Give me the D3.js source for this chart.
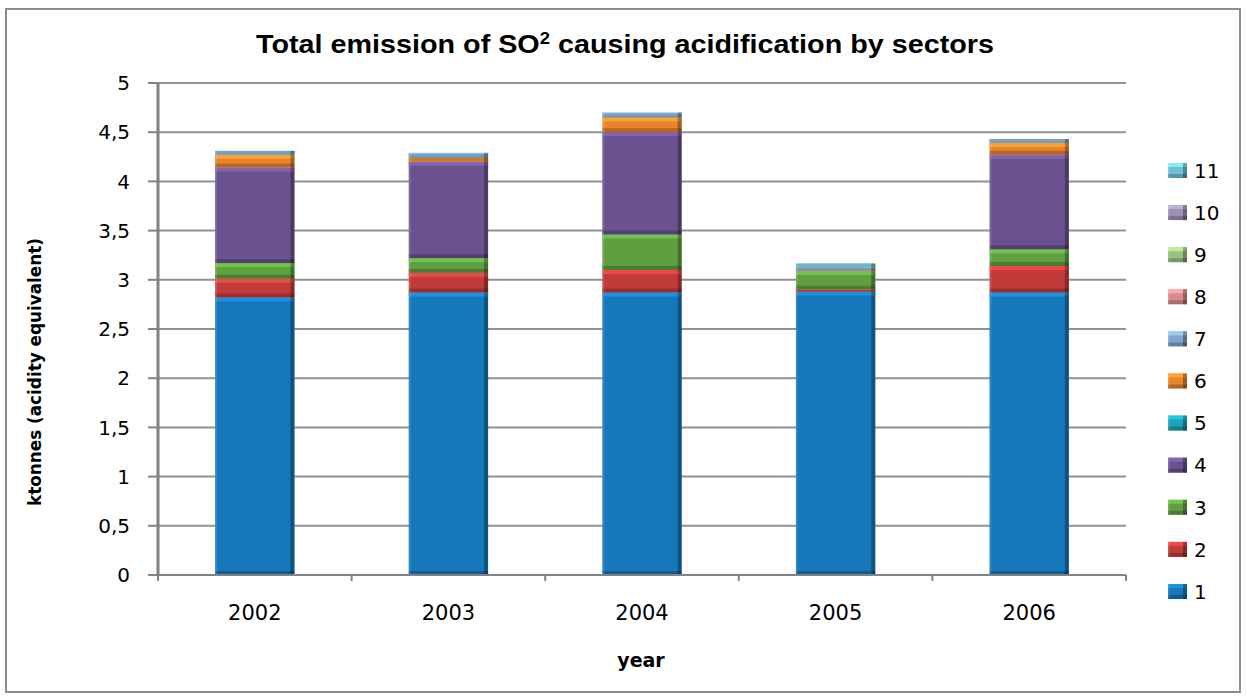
<!DOCTYPE html>
<html>
<head>
<meta charset="utf-8">
<script src="https://cdn.jsdelivr.net/npm/d3@7"></script>
<style>
  body { margin: 0; background: #fff; }
  svg text { fill: #000; }
</style>
</head>
<body>
<div id="chart"></div>
<script>
// data
const years = ["2002", "2003", "2004", "2005", "2006"];
const sectors = ["1", "2", "3", "4", "5", "6", "7", "8", "9", "10", "11"];
const s1  = [2.82, 2.87, 2.87, 2.88, 2.87];
const s2  = [0.19, 0.20, 0.23, 0.02, 0.27];
const s3  = [0.16, 0.15, 0.36, 0.19, 0.17];
const s4  = [0.97, 0.98, 1.04, 0.00, 0.96];
const s5  = [0, 0, 0, 0, 0];
const s6  = [0.13, 0.04, 0.15, 0.00, 0.12];
const s7  = [0.04, 0.05, 0.05, 0.00, 0.04];
const s8  = [0, 0, 0, 0, 0];
const s9  = [0, 0, 0, 0, 0];
const s10 = [0, 0, 0, 0.035, 0];
const s11 = [0, 0, 0, 0.04, 0];
const yTicks = [0, 0.5, 1, 1.5, 2, 2.5, 3, 3.5, 4, 4.5, 5];

const series = [s1, s2, s3, s4, s5, s6, s7, s8, s9, s10, s11];
const colors = ["#1677ba", "#c23b3b", "#5f9f3f", "#6a5290", "#1ba3b8", "#e8842c",
                "#7fa6cc", "#d98a8a", "#9cc07f", "#9b8fb4", "#6fc0d2"];

const W = 1247, H = 698;
const svg = d3.select("#chart").append("svg")
  .attr("width", W).attr("height", H)
  .style("font-family", "'DejaVu Sans', Verdana, sans-serif");

// outer frame
svg.append("rect")
  .attr("x", 6).attr("y", 9).attr("width", 1234).attr("height", 683)
  .attr("fill", "#fff").attr("stroke", "#8a8d91").attr("stroke-width", 2);

const pLeft = 158, pRight = 1126, pTop = 83, pBottom = 575;

const x = d3.scaleBand().domain(years).range([pLeft, pRight]).padding(0);
const y = d3.scaleLinear().domain([0, 5]).range([pBottom, pTop]);

// gridlines
svg.append("g").selectAll("line")
  .data(yTicks.filter(d => d > 0))
  .enter().append("line")
  .attr("x1", pLeft).attr("x2", pRight)
  .attr("y1", d => y(d)).attr("y2", d => y(d))
  .attr("stroke", "#8e9296").attr("stroke-width", 2);

// stacking
const table = years.map((yr, i) => {
  const row = { year: yr };
  sectors.forEach((s, k) => row[s] = series[k][i]);
  return row;
});
const stacked = d3.stack().keys(sectors)(table);

const barW = x.bandwidth() * 0.41;
const layers = svg.append("g").selectAll("g")
  .data(stacked)
  .enter().append("g");

const segs = layers.selectAll("g")
  .data((layer, k) => layer.map(d => ({ d, k })).filter(o => o.d[1] - o.d[0] > 0))
  .enter().append("g")
  .attr("transform", o => `translate(${x(o.d.data.year) + (x.bandwidth() - barW) / 2},${y(o.d[1])})`);

function bevel(sel, w, hFn, colFn) {
  sel.append("rect").attr("width", w).attr("height", hFn).attr("fill", colFn);
  // top highlight
  sel.append("rect").attr("width", w).attr("height", o => Math.min(4, hFn(o)))
    .attr("fill", o => d3.color(colFn(o)).brighter(0.7)).attr("opacity", 0.8);
  // bottom shade
  sel.append("rect").attr("y", o => Math.max(0, hFn(o) - 4)).attr("width", w)
    .attr("height", o => Math.min(4, hFn(o)))
    .attr("fill", "#000").attr("opacity", 0.22);
  // right edge shade
  sel.append("rect").attr("x", w - 4).attr("width", 4).attr("height", hFn)
    .attr("fill", "#000").attr("opacity", 0.3);
  // left edge light
  sel.append("rect").attr("width", 2).attr("height", hFn)
    .attr("fill", "#fff").attr("opacity", 0.12);
}
bevel(segs, barW, o => y(o.d[0]) - y(o.d[1]), o => colors[o.k]);

// y axis
svg.append("line").attr("x1", pLeft).attr("x2", pLeft).attr("y1", pTop).attr("y2", pBottom)
  .attr("stroke", "#7f8488").attr("stroke-width", 3);
svg.append("g").selectAll("line").data(yTicks).enter().append("line")
  .attr("x1", pLeft - 10).attr("x2", pLeft).attr("y1", d => y(d)).attr("y2", d => y(d))
  .attr("stroke", "#7f8488").attr("stroke-width", 2);
svg.append("g").selectAll("text").data(yTicks).enter().append("text")
  .attr("x", 130).attr("y", d => y(d)).attr("dy", "0.36em")
  .attr("text-anchor", "end").style("font-size", "20px")
  .text(d => String(d).replace(".", ","));

// x axis
svg.append("line").attr("x1", pLeft).attr("x2", pRight).attr("y1", pBottom).attr("y2", pBottom)
  .attr("stroke", "#7f8488").attr("stroke-width", 2);
const xBounds = years.map(yr => x(yr)).concat([pRight]);
svg.append("g").selectAll("line").data(xBounds).enter().append("line")
  .attr("x1", d => d).attr("x2", d => d).attr("y1", pBottom).attr("y2", pBottom + 6)
  .attr("stroke", "#7f8488").attr("stroke-width", 2);
svg.append("g").selectAll("text").data(years).enter().append("text")
  .attr("x", d => x(d) + x.bandwidth() / 2).attr("y", 620)
  .attr("text-anchor", "middle").style("font-size", "21px")
  .text(d => d);

// title
const title = svg.append("text")
  .attr("x", 625).attr("y", 53).attr("text-anchor", "middle")
  .style("font-family", "'Liberation Sans', Arial, sans-serif")
  .style("font-weight", "bold").style("font-size", "25px")
  .attr("textLength", 738).attr("lengthAdjust", "spacingAndGlyphs");
title.append("tspan").text("Total emission of SO");
title.append("tspan").attr("dy", -9).style("font-size", "16px").text("2");
title.append("tspan").attr("dy", 9).text(" causing acidification  by sectors");

// axis titles
svg.append("text")
  .attr("transform", "translate(41,372) rotate(-90)")
  .attr("text-anchor", "middle")
  .style("font-family", "'DejaVu Sans Condensed', 'DejaVu Sans', sans-serif")
  .style("font-stretch", "condensed")
  .style("font-weight", "bold").style("font-size", "17px")
  .attr("textLength", 268).attr("lengthAdjust", "spacingAndGlyphs")
  .text("ktonnes (acidity equivalent)");
svg.append("text")
  .attr("x", 641).attr("y", 667).attr("text-anchor", "middle")
  .style("font-weight", "bold").style("font-size", "19px")
  .text("year");

// legend
const legend = svg.append("g").selectAll("g")
  .data(sectors.map((s, k) => ({ s, k })))
  .enter().append("g")
  .attr("transform", o => `translate(1168,${584 - o.k * 42.1})`);
bevel(legend, 19, () => 15, o => colors[o.k]);
legend.append("text").attr("x", 26).attr("y", 7.5).attr("dy", "0.36em")
  .style("font-size", "20px").text(o => o.s);
</script>
</body>
</html>
